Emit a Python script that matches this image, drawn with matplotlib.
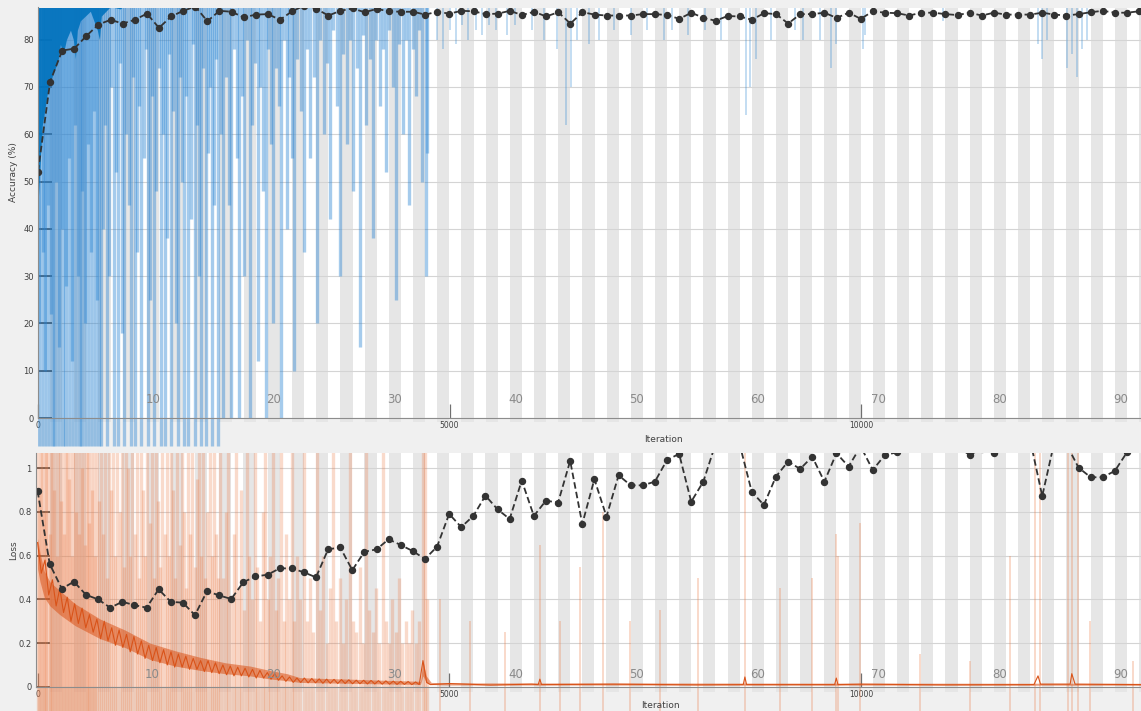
import numpy as np
import matplotlib
matplotlib.use("Agg")
import matplotlib.pyplot as plt
from matplotlib.patches import Rectangle

# ---------------- data ----------------
iters_per_epoch = 147
n_epochs = 92
epoch_labels = [10, 20, 30, 40, 50, 60, 70, 80, 90]
iter_ticks = [0, 5000, 10000]
acc_yticks = [0, 10, 20, 30, 40, 50, 60, 70, 80]
loss_yticks = [0, 0.2, 0.4, 0.6, 0.8, 1]

# validation (one point per epoch)
val_acc = [52.1, 71.1, 77.7, 78.1, 80.8, 83.2, 84.2, 83.4, 84.2, 85.5,
           82.5, 84.9, 86.1, 87.0, 83.9, 86.1, 85.9, 84.7, 85.3, 85.4,
           84.2, 86.0, 87.2, 86.5, 85.1, 86.1, 86.6, 85.8, 86.5, 86.0,
           85.9, 85.9, 85.3, 85.9, 85.5, 86.1, 86.0, 85.4, 85.5, 86.1,
           85.2, 85.9, 84.9, 85.8, 83.4, 85.8, 85.3, 85.1, 85.1, 85.1,
           85.4, 85.4, 85.2, 84.4, 85.7, 84.6, 84.0, 85.0, 84.9, 84.2,
           85.6, 85.4, 83.4, 85.4, 85.4, 85.7, 84.6, 85.7, 84.4, 86.0,
           85.7, 85.6, 85.1, 85.7, 85.7, 85.4, 85.2, 85.7, 85.1, 85.7,
           85.3, 85.3, 85.3, 85.7, 85.3, 85.1, 85.4, 85.8, 86.1, 85.7,
           85.7, 86.0]
val_loss = [0.896, 0.562, 0.449, 0.481, 0.421, 0.400, 0.362, 0.389, 0.374, 0.362,
            0.446, 0.389, 0.385, 0.328, 0.438, 0.418, 0.402, 0.479, 0.505, 0.513,
            0.542, 0.542, 0.524, 0.501, 0.629, 0.638, 0.534, 0.618, 0.629, 0.675,
            0.649, 0.621, 0.585, 0.641, 0.791, 0.731, 0.782, 0.875, 0.812, 0.768,
            0.944, 0.782, 0.852, 0.843, 1.034, 0.745, 0.950, 0.779, 0.968, 0.922,
            0.922, 0.939, 1.038, 1.066, 0.847, 0.939, 1.11, 1.18, 1.11, 0.893,
            0.832, 0.962, 1.031, 0.997, 1.053, 0.939, 1.069, 1.008, 1.10, 0.992,
            1.061, 1.073, 1.12, 1.15, 1.18, 1.15, 1.10, 1.061, 1.09, 1.072,
            1.12, 1.16, 1.13, 0.873, 1.12, 1.11, 1.003, 0.959, 0.959, 0.988,
            1.073, 1.10]

# smoothed training accuracy (lower edge of the dark band; the band runs above the view)
acc_s_iter = [0, 30, 53, 90, 126, 150, 187, 211, 248, 272, 308, 345, 394, 430, 454,
              478, 515, 576, 636, 721, 746, 770, 880, 1000, 1100, 13400]
acc_s_low = [45, 55, 62, 66, 70, 71, 73, 74, 76, 79, 77, 80, 82, 80, 76,
             82, 84, 85, 86, 82, 80, 85, 87, 86.5, 88, 95]

# raw training accuracy dips (iteration, minimum accuracy reached)
acc_dip_iter = [0, 18, 36, 55, 72, 90, 108, 126, 145, 163, 180, 198, 216, 235, 252, 270, 288, 306,
                325, 342, 360, 378, 396, 414, 432, 450, 468, 486, 505, 522, 540, 558, 576, 594,
                612, 630, 648, 666, 684, 702, 720, 740,
                765, 790, 815, 840, 866, 892, 918, 944, 970, 996, 1022, 1048, 1074, 1100, 1126,
                1152, 1178, 1204, 1230, 1256, 1282, 1308, 1334, 1360, 1386, 1412, 1438, 1464,
                1490, 1516, 1542, 1568, 1594, 1620, 1646, 1672, 1698, 1724, 1750, 1776, 1802,
                1828, 1854, 1880, 1906, 1932, 1958, 1984, 2010, 2036, 2062, 2088, 2114, 2140,
                2166, 2192,
                2220, 2252, 2284, 2316, 2348, 2380, 2412, 2444, 2476, 2508, 2540, 2572, 2604,
                2636, 2668, 2700, 2732, 2764, 2796, 2828, 2860, 2892, 2924, 2956, 2988, 3020,
                3052, 3084, 3116, 3150,
                3190, 3230, 3270, 3310, 3350, 3390, 3430, 3470, 3510, 3550, 3590, 3630, 3670,
                3710, 3750, 3790, 3830, 3870, 3910, 3950, 3990, 4030, 4070, 4110, 4150, 4190,
                4230, 4270, 4310, 4350, 4390, 4430, 4470, 4510, 4550, 4590, 4630, 4670, 4710, 4730,
                4850, 4920, 5000, 5080, 5150, 5230, 5320, 5400, 5480, 5560, 5700, 5800, 6000,
                6150, 6300, 6420, 6480, 6550, 6700, 6820, 7000, 7200, 7400, 7600, 7700, 7900,
                8100, 8300, 8600, 8650, 8720, 8900, 9200, 9300, 9500, 9640, 9700, 10020, 10050,
                11000, 12150, 12200, 12260, 12500, 12560, 12620, 12680, 12740]
acc_dip_low = [-6, 20, -6, 35, -6, 10, -6, 45, -6, 22, -6, -6, 50, -6, 15, -6, 40, -6,
               -6, 28, -6, 55, -6, 12, -6, 62, -6, 30, -6, -6, 48, -6, 20, -6,
               58, -6, 35, -6, 65, -6, 25, -6,
               -6, 40, 62, -6, 30, 70, -6, 52, -6, 75, 18, -6, 60, 45, -6,
               72, -6, 35, 66, -6, 55, 78, -6, 25, 68, -6, 48, 74,
               -6, 60, -6, 38, 77, -6, 65, 20, -6, 72, 50, -6, 68,
               -6, 42, 79, -6, 62, 30, -6, 74, -6, 56, 70, -6, 45,
               76, -6,
               60, 0, 72, 45, 0, 78, 55, 0, 68, 30, 80, 0, 62,
               75, 12, 70, 48, 0, 78, 58, 20, 74, 66, 0, 80, 40,
               72, 55, 10, 76,
               65, 35, 78, 55, 72, 20, 80, 60, 75, 42, 82, 66, 30,
               77, 58, 80, 48, 74, 15, 81, 62, 76, 38, 80, 66, 78,
               52, 82, 70, 25, 79, 60, 80, 45, 78, 68, 82, 50, 30, 56,
               80, 78, 82, 79, 83, 80, 82, 81, 83, 82, 81, 83, 82,
               80, 78, 62, 70, 80, 79, 80, 82, 81, 82, 80, 82, 81,
               82, 80, 64, 70, 76, 80, 82, 80, 80, 74, 79, 78, 81,
               84, 79, 76, 80, 74, 77, 72, 78, 80]

# smoothed training loss: envelope of the noisy trace ...
loss_band_iter = [0, 30, 80, 150, 270, 455, 760, 1060, 1365, 1670, 1973, 2280, 2580, 2820,
                  3030, 3185, 3500, 3800, 4100, 4400, 4650, 4680, 4720, 4780, 5000, 13400]
loss_band_low = [0.54, 0.48, 0.41, 0.37, 0.33, 0.28, 0.22, 0.18, 0.125, 0.095, 0.075, 0.06,
                 0.05, 0.036, 0.028, 0.02, 0.018, 0.016, 0.014, 0.012, 0.011, 0.05, 0.02,
                 0.01, 0.008, 0.007]
loss_band_high = [0.68, 0.61, 0.53, 0.48, 0.44, 0.38, 0.31, 0.26, 0.20, 0.165, 0.135, 0.11,
                  0.095, 0.075, 0.06, 0.042, 0.038, 0.035, 0.031, 0.028, 0.025, 0.12, 0.05,
                  0.02, 0.018, 0.016]
# ... and the trace itself
loss_s_iter = [0, 45, 90, 135, 180, 225, 270, 315, 360, 405, 450, 495, 540, 585, 630, 675,
               720, 765, 810, 855, 900, 945, 990, 1035, 1080, 1125, 1170, 1215, 1260, 1305,
               1350, 1395, 1440, 1485, 1530, 1575, 1620, 1665, 1710, 1755, 1800, 1845, 1890,
               1935, 1980, 2025, 2070, 2115, 2160, 2205, 2250, 2295, 2340, 2385, 2430, 2475,
               2520, 2565, 2610, 2655, 2700, 2745, 2790, 2835, 2880, 2925, 2970, 3015, 3060,
               3105, 3150, 3195, 3240, 3285, 3330, 3375, 3420, 3465, 3510, 3555, 3600, 3645,
               3690, 3735, 3780, 3825, 3870, 3915, 3960, 4005, 4050, 4095, 4140, 4185, 4230,
               4275, 4320, 4365, 4410, 4455, 4500, 4545, 4590, 4635, 4680, 4725, 4770,
               5000, 5500, 6000, 6080, 6100, 6120, 7000, 8000, 8570, 8590, 8610, 9680, 9700,
               9720, 10000, 11000, 12100, 12150, 12180, 12540, 12560, 12600, 13400]
loss_s_val = [0.66, 0.52, 0.58, 0.42, 0.49, 0.37, 0.45, 0.34, 0.41, 0.30, 0.38, 0.29, 0.36, 0.27,
              0.33, 0.25, 0.31, 0.22, 0.30, 0.21, 0.27, 0.19, 0.26, 0.18, 0.24, 0.16, 0.23, 0.15,
              0.21, 0.13, 0.19, 0.12, 0.18, 0.11, 0.17, 0.10, 0.16, 0.09, 0.15, 0.09, 0.14, 0.08,
              0.13, 0.08, 0.12, 0.07, 0.12, 0.065, 0.11, 0.06, 0.10, 0.055, 0.095, 0.05, 0.09,
              0.05, 0.085, 0.045, 0.08, 0.04, 0.075, 0.04, 0.065, 0.035, 0.06, 0.03, 0.05, 0.025,
              0.045, 0.02, 0.04, 0.02, 0.04, 0.018, 0.038, 0.018, 0.036, 0.016, 0.035, 0.016,
              0.034, 0.015, 0.033, 0.015, 0.032, 0.014, 0.03, 0.014, 0.03, 0.013, 0.029, 0.013,
              0.028, 0.012, 0.027, 0.012, 0.026, 0.011, 0.025, 0.011, 0.024, 0.01, 0.022, 0.01,
              0.12, 0.02, 0.01,
              0.015, 0.008, 0.012, 0.01, 0.035, 0.01, 0.012, 0.009, 0.01, 0.045, 0.01, 0.01,
              0.04, 0.01, 0.012, 0.009, 0.01, 0.05, 0.012, 0.012, 0.06, 0.012, 0.01]

# raw training loss spikes (iteration, peak loss)
loss_spk_iter = [0, 18, 36, 55, 72, 90, 108, 126, 145, 163, 180, 198, 216, 235, 252, 270, 288,
                 306, 325, 342, 360, 378, 396, 414, 432, 450, 468, 486, 505, 522, 540, 558, 576,
                 594, 612, 630, 648, 666, 684, 702, 720, 740,
                 765, 790, 815, 840, 866, 892, 918, 944, 970, 996, 1022, 1048, 1074, 1100, 1126,
                 1152, 1178, 1204, 1230, 1256, 1282, 1308, 1334, 1360, 1386, 1412, 1438, 1464,
                 1490, 1516, 1542, 1568, 1594, 1620, 1646, 1672, 1698, 1724, 1750, 1776, 1802,
                 1828, 1854, 1880, 1906, 1932, 1958, 1984, 2010, 2036, 2062, 2088, 2114, 2140,
                 2166, 2192,
                 2220, 2252, 2284, 2316, 2348, 2380, 2412, 2444, 2476, 2508, 2540, 2572, 2604,
                 2636, 2668, 2700, 2732, 2764, 2796, 2828, 2860, 2892, 2924, 2956, 2988, 3020,
                 3052, 3084, 3116, 3150,
                 3190, 3230, 3270, 3310, 3350, 3390, 3430, 3470, 3510, 3550, 3590, 3630, 3670,
                 3710, 3750, 3790, 3830, 3870, 3910, 3950, 3990, 4030, 4070, 4110, 4150, 4190,
                 4230, 4270, 4310, 4350, 4390, 4430, 4470, 4510, 4550, 4590, 4630, 4680, 4700, 4730,
                 4886, 5250, 5676, 6100, 6345, 6590, 6866, 7200, 7560, 8020, 8590, 9016, 9405,
                 9697, 9720, 9987, 10717, 11320, 11810, 12113, 12174, 12514, 12562, 12635,
                 12780, 13303]
loss_spk_high = [1.3, 0.9, 1.3, 1.3, 0.8, 1.3, 1.1, 1.3, 0.7, 1.3, 1.3, 0.9, 1.3, 0.6, 1.3, 1.3,
                 0.85, 1.3, 0.7, 1.3, 1.3, 0.95, 1.3, 0.6, 1.3, 1.3, 0.8, 1.3, 0.7, 1.3, 1.0, 1.3,
                 0.65, 1.3, 1.3, 0.75, 1.3, 0.9, 1.3, 0.6, 1.3, 0.85,
                 1.3, 0.7, 1.3, 0.5, 1.3, 0.9, 1.3, 0.6, 1.3, 0.8, 1.3, 0.55, 1.3, 1.0, 0.6,
                 1.3, 0.7, 1.3, 0.5, 1.3, 0.9, 0.6, 1.3, 0.75, 1.3, 0.5, 1.3, 0.85,
                 0.55, 1.3, 0.7, 1.3, 0.6, 1.3, 0.9, 0.5, 1.3, 0.65, 1.3, 0.8, 0.45,
                 1.3, 0.7, 1.3, 0.55, 0.95, 1.3, 0.6, 1.3, 0.5, 0.8, 1.3, 0.6, 1.3,
                 0.7, 0.5,
                 1.3, 0.5, 0.8, 1.3, 0.4, 0.7, 1.3, 0.45, 0.9, 0.35, 1.3, 0.6, 0.4,
                 1.3, 0.55, 0.3, 0.8, 1.3, 0.4, 0.6, 1.3, 0.35, 0.5, 1.3, 0.3, 0.7,
                 0.4, 1.3, 0.3, 0.6,
                 0.4, 1.3, 0.3, 0.5, 0.25, 1.3, 0.35, 0.6, 0.2, 0.45, 1.3, 0.3, 0.5,
                 0.2, 0.4, 1.3, 0.3, 0.25, 0.55, 0.2, 1.3, 0.35, 0.25, 0.45, 0.2, 1.3,
                 0.3, 0.2, 0.4, 0.25, 0.5, 0.2, 0.3, 0.2, 0.35, 0.2, 0.3, 1.3, 1.3, 0.4,
                 0.4, 0.3, 0.25, 0.65, 0.3, 0.55, 0.8, 0.3, 0.35, 0.5, 1.3, 0.45, 0.5,
                 0.7, 0.6, 0.75, 0.15, 0.12, 0.6, 1.3, 1.3, 1.3, 1.3, 1.3,
                 0.3, 0.12]

# ---------------- styling ----------------
W, H = 1141, 711
BG = '#f0f0f0'
STRIPE = '#e6e6e6'
GRID = '#d4d4d4'
TXT = '#404040'
BLUE = '#0072BD'
BLUE_RAW = '#2a84d2'
ORANGE = '#D95319'
ORANGE_RAW = '#ea7a45'
VAL = '#333333'
DENSE_END = 4780   # iterations after which raw traces are drawn thinner

PX_PER_IT = 0.08234
X0_PX = 37.6

fig = plt.figure(figsize=(W / 100, H / 100), dpi=100, facecolor=BG)


def px_axes(l, t, r, b):
    return fig.add_axes([l / W, 1 - b / H, (r - l) / W, (b - t) / H])


ax1 = px_axes(38, 7.5, W, 418)
ax2 = px_axes(36, 453, W, 686.8)
x_left1 = (38 - X0_PX) / PX_PER_IT
x_left2 = (36 - X0_PX) / PX_PER_IT
x_right = (W - X0_PX) / PX_PER_IT
ax1.set_xlim(x_left1, x_right)
ax2.set_xlim(x_left2, x_right)
ax1.set_ylim(0, 86.8)
ax2.set_ylim(0, 1.07)

val_iter = [i * iters_per_epoch for i in range(len(val_acc))]

for ax, below in ((ax1, 0.010), (ax2, 0.022)):
    ax.set_facecolor('white')
    for k in range(2, n_epochs + 1, 2):
        ax.axvspan((k - 1) * iters_per_epoch, k * iters_per_epoch, ymin=-below, ymax=1,
                   color=STRIPE, lw=0, zorder=0.1, clip_on=False)
    ax.set_axisbelow(True)
    ax.yaxis.grid(True, color=GRID, lw=0.8)
    ax.xaxis.grid(False)
    for s in ('top', 'right'):
        ax.spines[s].set_visible(False)
    for s in ('left', 'bottom'):
        ax.spines[s].set_color('#8c8c8c')
        ax.spines[s].set_linewidth(0.8)
        ax.spines[s].set_zorder(7)
    ax.set_xticks(iter_ticks)
    ax.set_xticklabels([str(v) for v in iter_ticks])
    ax.tick_params(axis='x', direction='in', length=10, width=0.9, color='#707070',
                   labelsize=5.5, labelcolor=TXT, pad=2)
    ax.tick_params(axis='y', direction='in', length=10, width=1.2, color='#404040',
                   labelsize=6, labelcolor=TXT, pad=3)

ax1.set_yticks(acc_yticks)
ax1.set_yticklabels([str(v) for v in acc_yticks])
ax2.set_yticks(loss_yticks)
ax2.set_yticklabels(['0', '0.2', '0.4', '0.6', '0.8', '1'])

# clip regions that let the raw traces spill a little below each axis
clip1 = Rectangle((0, -0.07), 1, 1.07, transform=ax1.transAxes, facecolor='none')
clip2 = Rectangle((0, -0.11), 1, 1.11, transform=ax2.transAxes, facecolor='none')


def split(xs, ys):
    xa, ya, xb, yb = [], [], [], []
    for x, y in zip(xs, ys):
        if x < DENSE_END:
            xa.append(x); ya.append(y)
        else:
            xb.append(x); yb.append(y)
    return xa, ya, xb, yb


# ---- accuracy panel ----
xa, ya, xb, yb = split(acc_dip_iter, acc_dip_low)
lc = ax1.vlines(xa, ya, 100, colors=BLUE_RAW, linewidths=2.4, alpha=0.42, zorder=1)
lc.set_clip_path(clip1)
lc = ax1.vlines(xb, yb, 100, colors=BLUE_RAW, linewidths=1.3, alpha=0.3, zorder=1)
lc.set_clip_path(clip1)
ax1.fill_between(acc_s_iter, acc_s_low, 100, color=BLUE, lw=0, alpha=0.9, zorder=2)
ax1.plot(val_iter, val_acc, ls=(0, (3.6, 1.8)), color=VAL, lw=1.3, marker='o', ms=4.3,
         mfc=VAL, mec=VAL, zorder=6)
for e in epoch_labels:
    ax1.text((e - 0.5) * iters_per_epoch, 3.9, str(e), ha='center', va='center',
             fontsize=8.5, color='#8a8a8a', zorder=5)

# ---- loss panel ----
xa, ya, xb, yb = split(loss_spk_iter, loss_spk_high)
lc2 = ax2.vlines(xa, -0.11, ya, colors=ORANGE_RAW, linewidths=2.4, alpha=0.28, zorder=1)
lc2.set_clip_path(clip2)
lc2 = ax2.vlines(xb, -0.11, yb, colors=ORANGE_RAW, linewidths=1.3, alpha=0.3, zorder=1)
lc2.set_clip_path(clip2)
ax2.fill_between(loss_band_iter, loss_band_low, loss_band_high, color=ORANGE, lw=0,
                 alpha=0.55, zorder=2)
ax2.plot(loss_s_iter, loss_s_val, color=ORANGE, lw=0.8, zorder=2.5)
ax2.plot(val_iter, val_loss, ls=(0, (3.6, 1.8)), color=VAL, lw=1.3, marker='o', ms=4.3,
         mfc=VAL, mec=VAL, zorder=6)
for e in epoch_labels:
    ax2.text((e - 0.5) * iters_per_epoch, 0.058, str(e), ha='center', va='center',
             fontsize=8.5, color='#8a8a8a', zorder=5)

# axis titles
fig.text(14 / W, 1 - 172 / H, 'Accuracy (%)', rotation=90, ha='center', va='center',
         fontsize=6.5, color=TXT)
fig.text(14 / W, 1 - 550 / H, 'Loss', rotation=90, ha='center', va='center',
         fontsize=6.5, color=TXT)
fig.text(663 / W, 1 - 439 / H, 'Iteration', ha='center', va='center', fontsize=6.5, color=TXT)
fig.text(660 / W, 1 - 706 / H, 'Iteration', ha='center', va='center', fontsize=6.5, color=TXT)

fig.savefig('out.png', dpi=100, facecolor=BG)
